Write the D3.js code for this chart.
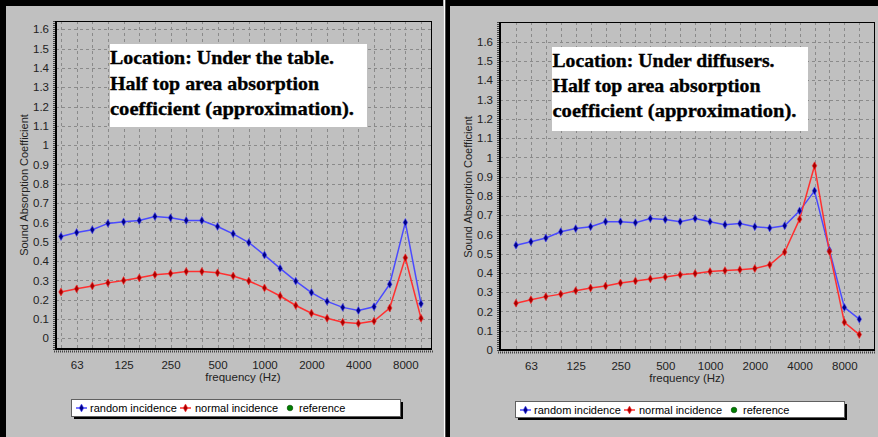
<!DOCTYPE html>
<html><head><meta charset="utf-8">
<script src="https://cdn.jsdelivr.net/npm/d3@7"></script>
<style>body{margin:0;background:#000}svg{display:block}</style>
</head><body><svg id="c" width="878" height="437"></svg>
<script>
const frequencies = ["50","63","80","100","125","160","200","250","315","400","500","630","800","1000","1250","1600","2000","2500","3150","4000","5000","6300","8000","10000"];
const xTickLabels = ["63","125","250","500","1000","2000","4000","8000"];
const yTickValues = [0,0.1,0.2,0.3,0.4,0.5,0.6,0.7,0.8,0.9,1,1.1,1.2,1.3,1.4,1.5,1.6];
const seriesNames = ["random incidence","normal incidence","reference"];
const tableRandom = [0.527,0.548,0.562,0.595,0.603,0.610,0.631,0.624,0.610,0.610,0.579,0.541,0.496,0.431,0.362,0.296,0.237,0.191,0.160,0.144,0.163,0.280,0.600,0.179];
const tableNormal = [0.240,0.256,0.271,0.287,0.299,0.313,0.329,0.336,0.346,0.346,0.339,0.323,0.297,0.261,0.219,0.170,0.130,0.104,0.083,0.077,0.089,0.157,0.417,0.104];
const diffuserRandom = [0.544,0.562,0.581,0.614,0.630,0.640,0.666,0.666,0.661,0.682,0.677,0.666,0.682,0.666,0.650,0.656,0.640,0.633,0.645,0.722,0.826,0.518,0.221,0.160];
const diffuserNormal = [0.243,0.261,0.277,0.290,0.308,0.322,0.332,0.348,0.358,0.369,0.379,0.390,0.397,0.407,0.412,0.417,0.423,0.442,0.508,0.679,0.956,0.511,0.144,0.080];
const tableNote = ["Location: Under the table.","Half top area absorption","coefficient (approximation)."];
const diffuserNote = ["Location: Under diffusers.","Half top area absorption","coefficient (approximation)."];

const svg = d3.select("#c");
svg.append("rect").attr("width",878).attr("height",437).attr("fill","#000");

const FONT = "'Liberation Sans', Arial, sans-serif";

function drawChart(cfg){
  const g = svg.append("g");
  g.append("rect").attr("x",cfg.panel[0]).attr("y",cfg.panel[1]).attr("width",cfg.panel[2]-cfg.panel[0]).attr("height",437-cfg.panel[1]).attr("fill","#c0c0c0");
  const f = cfg.frame;
  const x = d3.scaleLinear().domain([0,frequencies.length-1]).range(cfg.xr);
  const y = d3.scaleLinear().domain([0,1.6]).range(cfg.yr);

  const clipId = "clip"+cfg.id;
  g.append("clipPath").attr("id",clipId).append("rect").attr("x",f.l).attr("y",f.t).attr("width",f.r-f.l).attr("height",f.b-f.t);

  // grid
  const grid = g.append("g").attr("stroke","#8a8a8a").attr("stroke-width",1).attr("stroke-dasharray","3,3").attr("clip-path",`url(#${clipId})`);
  grid.selectAll("line.h").data(yTickValues).join("line").attr("class","h")
    .attr("x1",f.l).attr("x2",f.r).attr("y1",d=>Math.round(y(d))+0.5).attr("y2",d=>Math.round(y(d))+0.5);
  grid.selectAll("line.v").data(frequencies).join("line").attr("class","v")
    .attr("y1",f.t).attr("y2",f.b).attr("x1",(d,i)=>Math.round(x(i))+0.5).attr("x2",(d,i)=>Math.round(x(i))+0.5);

  // annotation box
  const nb = cfg.note;
  g.append("rect").attr("x",nb.x).attr("y",nb.y).attr("width",nb.w).attr("height",nb.h).attr("fill","#fff");
  cfg.noteLines.forEach((t,i)=>{
    g.append("text").attr("x",nb.tx).attr("y",nb.baselines[i]).text(t)
      .attr("font-family","'Liberation Serif', 'Times New Roman', serif").attr("font-weight","bold").attr("font-size",19)
      .attr("textLength",nb.widths[i]).attr("lengthAdjust","spacingAndGlyphs").attr("fill","#000")
      .attr("stroke","#000").attr("stroke-width",0.35);
  });

  // frame
  g.append("line").attr("x1",f.l).attr("x2",f.r).attr("y1",f.t+0.5).attr("y2",f.t+0.5).attr("stroke","#000");
  g.append("line").attr("x1",f.r+0.5).attr("x2",f.r+0.5).attr("y1",f.t).attr("y2",f.b).attr("stroke","#000");
  // minor tick texture
  g.append("line").attr("x1",f.l-2).attr("x2",f.l-2).attr("y1",f.t).attr("y2",f.b+2).attr("stroke","#444").attr("stroke-width",2).attr("stroke-dasharray","1,1");
  g.append("line").attr("x1",f.l-2).attr("x2",f.r+2).attr("y1",f.b+2.5).attr("y2",f.b+2.5).attr("stroke","#444").attr("stroke-width",2).attr("stroke-dasharray","1,1");
  g.append("line").attr("x1",f.l).attr("x2",f.l).attr("y1",f.t).attr("y2",f.b+1).attr("stroke","#000").attr("stroke-width",2);
  g.append("line").attr("x1",f.l-1).attr("x2",f.r+1).attr("y1",f.b).attr("y2",f.b).attr("stroke","#000").attr("stroke-width",2);

  // axes labels via d3 axis
  const ya = g.append("g").attr("transform",`translate(${f.l},0)`)
    .call(d3.axisLeft(y).tickValues(yTickValues).tickFormat(d3.format("~g")).tickSize(0).tickPadding(7));
  ya.select(".domain").remove();
  ya.selectAll("text").attr("font-family",FONT).attr("font-size",11.5).attr("fill","#222");

  const xa = g.append("g").attr("transform",`translate(0,${f.b})`)
    .call(d3.axisBottom(x).tickValues(xTickLabels.map(l=>frequencies.indexOf(l))).tickFormat(i=>frequencies[i]).tickSize(0).tickPadding(cfg.xPad));
  xa.select(".domain").remove();
  xa.selectAll("text").attr("font-family",FONT).attr("font-size",11.5).attr("fill","#222");

  g.append("text").attr("x",cfg.xTitle[0]).attr("y",cfg.xTitle[1]).attr("text-anchor","middle")
    .attr("font-family",FONT).attr("font-size",11.5).attr("fill","#222").text("frequency (Hz)");
  g.append("text").attr("transform",`translate(${cfg.yTitle[0]},${cfg.yTitle[1]}) rotate(-90)`).attr("text-anchor","middle")
    .attr("font-family",FONT).attr("font-size",11).attr("fill","#222").text("Sound Absorption Coefficient");

  // series
  const series = [
    {vals:cfg.random, line:"#4a4aff", mark:"#000088"},
    {vals:cfg.normal, line:"#ff3030", mark:"#aa0000"}
  ];
  const lineGen = d3.line().x((d,i)=>x(i)).y(d=>y(d));
  const sym = d3.symbol().type(d3.symbolDiamond).size(18);
  series.forEach(s=>{
    g.append("path").datum(s.vals).attr("d",lineGen).attr("fill","none").attr("stroke",s.line).attr("stroke-width",1.5);
  });
  series.forEach(s=>{
    g.append("g").selectAll("path").data(s.vals).join("path").attr("d",sym)
      .attr("transform",(d,i)=>`translate(${x(i)},${y(d)})`).attr("fill",s.mark).attr("stroke",s.line).attr("stroke-width",0.6);
  });

  // legend
  const L = cfg.legend;
  g.append("rect").attr("x",L.x+3).attr("y",L.y+3).attr("width",L.w).attr("height",L.h).attr("fill","#000");
  g.append("rect").attr("x",L.x+0.5).attr("y",L.y+0.5).attr("width",L.w).attr("height",L.h).attr("fill","#fff").attr("stroke","#606060");
  const ty = L.y + 13;
  const items = [
    {dx:5, tx:19, line:"#4a4aff", mark:"#000088"},
    {dx:109, tx:124, line:"#ff3030", mark:"#aa0000"},
    {dx:null, tx:228, dot:219}
  ];
  items.forEach((it,i)=>{
    if(it.dx!==null){
      g.append("line").attr("x1",L.x+it.dx).attr("x2",L.x+it.dx+11).attr("y1",L.y+9).attr("y2",L.y+9).attr("stroke",it.line).attr("stroke-width",1.5);
      g.append("path").attr("d",sym).attr("transform",`translate(${L.x+it.dx+5.5},${L.y+9})`).attr("fill",it.mark).attr("stroke",it.line).attr("stroke-width",0.6);
    } else {
      g.append("circle").attr("cx",L.x+it.dot).attr("cy",L.y+9).attr("r",2.8).attr("fill","#008000").attr("stroke","#004000").attr("stroke-width",0.6);
    }
    g.append("text").attr("x",L.x+it.tx).attr("y",ty).attr("font-family",FONT).attr("font-size",11).attr("fill","#000").text(seriesNames[i]);
  });
}

drawChart({
  id:"L", panel:[6,6,443.3],
  frame:{l:56,r:431,t:21,b:349},
  xr:[61,421], yr:[338.3,29.3], xPad:12,
  note:{x:110,y:44,w:257,h:83,tx:110,baselines:[64,89.5,115],widths:[224,209,244]},
  noteLines:tableNote,
  xTitle:[243,381], yTitle:[28,185],
  random:tableRandom, normal:tableNormal,
  legend:{x:71,y:399,w:329,h:17}
});
drawChart({
  id:"R", panel:[450,6,878],
  frame:{l:500,r:874,t:22,b:350},
  xr:[516,859.3], yr:[350,41.7], xPad:12,
  note:{x:552,y:47,w:256,h:84,tx:552.5,baselines:[67,92,117],widths:[222,208,244]},
  noteLines:diffuserNote,
  xTitle:[687,382], yTitle:[472,187],
  random:diffuserRandom, normal:diffuserNormal,
  legend:{x:515,y:401,w:329,h:16}
});
// separator strip between panels
svg.append("rect").attr("x",443.3).attr("y",0).attr("width",2).attr("height",437).attr("fill","#fff");
</script></body></html>
